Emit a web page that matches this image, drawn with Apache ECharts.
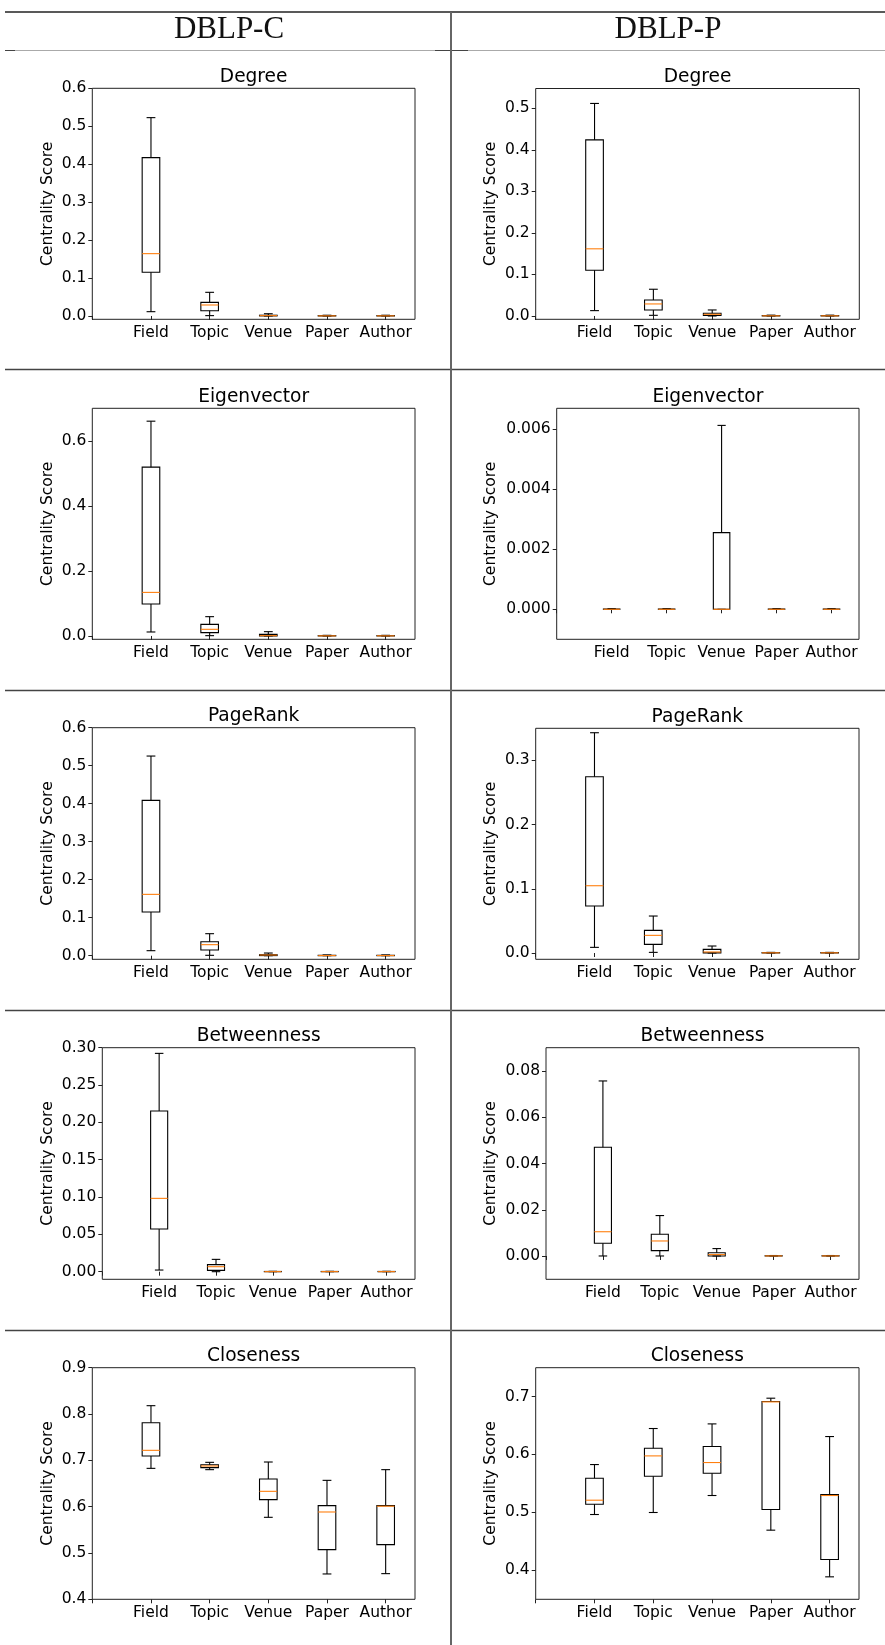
<!DOCTYPE html>
<html>
<head>
<meta charset="utf-8">
<title>Centrality scores: DBLP-C / DBLP-P</title>
<script src="https://cdn.jsdelivr.net/npm/echarts@6/dist/echarts.min.js"></script>
<style>
  html, body { margin: 0; padding: 0; background: #fff; }
  #main { width: 885px; height: 1645px; }
</style>
</head>
<body>
<div id="main"></div>
<script>
// node types on the x axis
var categories = ['Field', 'Topic', 'Venue', 'Paper', 'Author']

// each row: [lower whisker, Q1, median, Q3, upper whisker]
var degreeC = [
  [0.0114, 0.1151, 0.1643, 0.4173, 0.5227],
  [0.001, 0.014, 0.029, 0.036, 0.0624],
  [0.0, 0.0003, 0.001, 0.002, 0.006],
  [0.0, 0.0001, 0.0004, 0.001, 0.002],
  [0.0, 0.0001, 0.0004, 0.001, 0.002]
]
var degreeP = [
  [0.0129, 0.1103, 0.1618, 0.4243, 0.512],
  [0.0016, 0.0145, 0.029, 0.0386, 0.0644],
  [0.0, 0.001, 0.004, 0.0064, 0.0145],
  [0.0, 0.0001, 0.0004, 0.001, 0.002],
  [0.0, 0.0001, 0.0004, 0.001, 0.002]
]
var eigenC = [
  [0.0123, 0.0983, 0.134, 0.519, 0.6604],
  [0.001, 0.0102, 0.0205, 0.0358, 0.0594],
  [0.0, 0.0003, 0.001, 0.005, 0.0133],
  [0.0, 0.0001, 0.0004, 0.001, 0.002],
  [0.0, 0.0001, 0.0004, 0.001, 0.002]
]
var eigenP = [
  [0, 0, 0, 0.00001, 0.00002],
  [0, 0, 0, 0.00001, 0.00002],
  [0, 0, 0, 0.002556, 0.00613],
  [0, 0, 0, 0.00001, 0.00002],
  [0, 0, 0, 0.00001, 0.00002]
]
var pagerankC = [
  [0.0132, 0.1149, 0.1614, 0.4088, 0.5254],
  [0.001, 0.0149, 0.029, 0.0368, 0.0579],
  [0.0, 0.0003, 0.0018, 0.0026, 0.007],
  [0.0, 0.0001, 0.0004, 0.001, 0.002],
  [0.0, 0.0001, 0.0004, 0.001, 0.002]
]
var pagerankP = [
  [0.0088, 0.0732, 0.1048, 0.2746, 0.3431],
  [0.001, 0.0135, 0.0275, 0.0353, 0.0576],
  [0.0, 0.0002, 0.0016, 0.0057, 0.0109],
  [0.0, 0.0001, 0.0003, 0.0006, 0.001],
  [0.0, 0.0001, 0.0003, 0.0006, 0.001]
]
var betweenC = [
  [0.0022, 0.0571, 0.0982, 0.2152, 0.2924],
  [0.0, 0.0018, 0.0067, 0.0094, 0.0165],
  [0.0, 0.0, 0.0001, 0.0003, 0.0005],
  [0.0, 0.0, 0.0001, 0.0003, 0.0005],
  [0.0, 0.0, 0.0001, 0.0003, 0.0005]
]
var betweenP = [
  [0.0, 0.0055, 0.0105, 0.0471, 0.0758],
  [0.0, 0.0023, 0.0065, 0.0094, 0.0175],
  [0.0, 0.0, 0.0006, 0.0014, 0.0032],
  [0.0, 0.0, 0.00003, 0.0001, 0.0002],
  [0.0, 0.0, 0.00003, 0.0001, 0.0002]
]
var closeC = [
  [0.6827, 0.7094, 0.7216, 0.7813, 0.818],
  [0.6799, 0.6842, 0.6878, 0.6906, 0.6957],
  [0.577, 0.6151, 0.6331, 0.6597, 0.6964],
  [0.4547, 0.5072, 0.5885, 0.6022, 0.6568],
  [0.4554, 0.518, 0.601, 0.6022, 0.6799]
]
var closeP = [
  [0.4958, 0.5137, 0.5206, 0.5587, 0.5823],
  [0.4993, 0.5621, 0.5973, 0.6106, 0.6447],
  [0.5287, 0.5673, 0.5858, 0.6135, 0.6527],
  [0.4687, 0.5044, 0.6908, 0.6914, 0.6972],
  [0.3879, 0.4179, 0.5287, 0.5304, 0.6308]
]

// y tick labels of each panel
var ticksDegreeC = [0, 0.1, 0.2, 0.3, 0.4, 0.5, 0.6]
var ticksDegreeP = [0, 0.1, 0.2, 0.3, 0.4, 0.5]
var ticksEigenC = [0, 0.2, 0.4, 0.6]
var ticksEigenP = [0, 0.002, 0.004, 0.006]
var ticksPagerankC = [0, 0.1, 0.2, 0.3, 0.4, 0.5, 0.6]
var ticksPagerankP = [0, 0.1, 0.2, 0.3]
var ticksBetweenC = [0, 0.05, 0.1, 0.15, 0.2, 0.25, 0.3]
var ticksBetweenP = [0, 0.02, 0.04, 0.06, 0.08]
var ticksCloseC = [0.4, 0.5, 0.6, 0.7, 0.8, 0.9]
var ticksCloseP = [0.4, 0.5, 0.6, 0.7]

var datasets = ['DBLP-C', 'DBLP-P']

// one entry per subplot, left column then right column, row by row
var panels = [
  { title: 'Degree', data: degreeC, ticks: ticksDegreeC, dec: 1, min: -0.0087, max: 0.6 },
  { title: 'Degree', data: degreeP, ticks: ticksDegreeP, dec: 1, min: -0.008, max: 0.548 },
  { title: 'Eigenvector', data: eigenC, ticks: ticksEigenC, dec: 1, min: -0.0102, max: 0.70 },
  { title: 'Eigenvector', data: eigenP, ticks: ticksEigenP, dec: 3, min: -0.001, max: 0.0067 },
  { title: 'PageRank', data: pagerankC, ticks: ticksPagerankC, dec: 1, min: -0.0095, max: 0.6 },
  { title: 'PageRank', data: pagerankP, ticks: ticksPagerankP, dec: 1, min: -0.0098, max: 0.35 },
  { title: 'Betweenness', data: betweenC, ticks: ticksBetweenC, dec: 2, min: -0.0102, max: 0.30 },
  { title: 'Betweenness', data: betweenP, ticks: ticksBetweenP, dec: 2, min: -0.0101, max: 0.0902 },
  { title: 'Closeness', data: closeC, ticks: ticksCloseC, dec: 1, min: 0.4, max: 0.9 },
  { title: 'Closeness', data: closeP, ticks: ticksCloseP, dec: 1, min: 0.349, max: 0.75 }
]

// plot rectangles [left, top, width, height] in px
var boxes = [
  [92.3, 88.3, 322.7, 231],
  [535.7, 88.5, 323.6, 230.8],
  [92.3, 408.3, 322.7, 231],
  [556.7, 408.3, 302.3, 231],
  [92.3, 727.7, 322.7, 231.6],
  [535.7, 728.3, 323.3, 231],
  [102.3, 1047.7, 312.7, 231.6],
  [546, 1047.7, 313, 231.6],
  [92.3, 1367.7, 322.7, 231.6],
  [535.7, 1367.7, 323.3, 231.6]
]

var FONT = 'DejaVu Sans'
var TICK_SIZE = 15.5
var TITLE_SIZE = 18.6
var BOX_W = 0.3 // box width in x-axis units

function renderBox (params, api) {
  var x = api.value(0)
  var lo = api.coord([x, api.value(1)])
  var q1 = api.coord([x, api.value(2)])
  var med = api.coord([x, api.value(3)])
  var q3 = api.coord([x, api.value(4)])
  var hi = api.coord([x, api.value(5)])
  var w = api.size([BOX_W, 0])[0]
  var cx = lo[0]
  var black = { stroke: '#000', lineWidth: 1.1, fill: 'none' }
  return {
    type: 'group',
    children: [
      { type: 'line', shape: { x1: cx, y1: q1[1], x2: cx, y2: lo[1] }, style: black },
      { type: 'line', shape: { x1: cx, y1: q3[1], x2: cx, y2: hi[1] }, style: black },
      { type: 'line', shape: { x1: cx - w / 4, y1: lo[1], x2: cx + w / 4, y2: lo[1] }, style: black },
      { type: 'line', shape: { x1: cx - w / 4, y1: hi[1], x2: cx + w / 4, y2: hi[1] }, style: black },
      { type: 'rect', shape: { x: cx - w / 2, y: q3[1], width: w, height: q1[1] - q3[1] }, style: black },
      { type: 'line', shape: { x1: cx - w / 2, y1: med[1], x2: cx + w / 2, y2: med[1] }, style: { stroke: '#ff7f0e', lineWidth: 1.1 } }
    ]
  }
}

var grids = []
var xAxes = []
var yAxes = []
var series = []
var graphics = []

panels.forEach(function (p, i) {
  var b = boxes[i]
  var right = i % 2 === 1
  grids.push({
    left: b[0], top: b[1], width: b[2], height: b[3],
    show: true, borderColor: '#222', borderWidth: 1, backgroundColor: 'transparent',
    containLabel: false, outerBoundsMode: 'none'
  })
  xAxes.push({
    type: 'value', gridIndex: i, min: 0, max: 5.5,
    axisLine: { show: false },
    splitLine: { show: false },
    axisTick: { show: true, length: 4, customValues: [0, 1, 2, 3, 4, 5], lineStyle: { color: '#222', width: 1 } },
    axisLabel: {
      customValues: [1, 2, 3, 4, 5], margin: 6,
      fontFamily: FONT, fontSize: TICK_SIZE, color: '#000',
      formatter: function (v) { return categories[Math.round(v) - 1] || '' }
    }
  })
  yAxes.push({
    type: 'value', gridIndex: i, min: p.min, max: p.max,
    axisLine: { show: false },
    splitLine: { show: false },
    axisTick: { show: true, length: 4, customValues: p.ticks, lineStyle: { color: '#222', width: 1 } },
    axisLabel: {
      customValues: p.ticks, margin: 6,
      fontFamily: FONT, fontSize: TICK_SIZE, color: '#000',
      formatter: (function (dec) { return function (v) { return v.toFixed(dec) } })(p.dec)
    },
    name: 'Centrality Score',
    nameLocation: 'middle',
    nameRotate: 90,
    nameGap: b[0] - (right ? 498.5 : 55.5),
    nameMoveOverlap: false,
    nameTextStyle: { fontFamily: FONT, fontSize: TICK_SIZE, color: '#000' }
  })
  series.push({
    type: 'custom',
    name: datasets[i % 2] + ' ' + p.title,
    xAxisIndex: i,
    yAxisIndex: i,
    renderItem: renderBox,
    clip: false,
    data: p.data.map(function (d, k) { return [k + 1].concat(d) }),
    encode: { x: 0, y: [1, 2, 3, 4, 5] }
  })
  graphics.push({
    type: 'text',
    x: b[0] + b[2] / 2,
    y: b[1] - 11.5,
    style: {
      text: p.title, fill: '#000',
      font: TITLE_SIZE + 'px "' + FONT + '"',
      align: 'center', verticalAlign: 'middle'
    }
  })
})

// table rules
var ruleY = [369.5, 690.5, 1010.5, 1330.5]
graphics.push({ type: 'line', shape: { x1: 5, y1: 12, x2: 885, y2: 12 }, style: { stroke: '#222', lineWidth: 1.5 } })
graphics.push({ type: 'line', shape: { x1: 5, y1: 50.5, x2: 885, y2: 50.5 }, style: { stroke: '#aaa', lineWidth: 1 } })
graphics.push({ type: 'line', shape: { x1: 5, y1: 50.5, x2: 15, y2: 50.5 }, style: { stroke: '#444', lineWidth: 1 } })
graphics.push({ type: 'line', shape: { x1: 435, y1: 50.5, x2: 468, y2: 50.5 }, style: { stroke: '#444', lineWidth: 1 } })
ruleY.forEach(function (y) {
  graphics.push({ type: 'line', shape: { x1: 5, y1: y, x2: 885, y2: y }, style: { stroke: '#444', lineWidth: 1.5 } })
})
graphics.push({ type: 'line', shape: { x1: 451, y1: 12, x2: 451, y2: 1645 }, style: { stroke: '#666', lineWidth: 2 } })

// column headers
datasets.forEach(function (name, i) {
  graphics.push({
    type: 'text',
    x: i === 0 ? 229 : 668,
    y: 30,
    style: {
      text: name, fill: '#111',
      font: '31px "Liberation Serif"',
      align: 'center', verticalAlign: 'middle'
    }
  })
})

var chart = echarts.init(document.getElementById('main'), null, { renderer: 'canvas' })
chart.setOption({
  animation: false,
  backgroundColor: '#fff',
  grid: grids,
  xAxis: xAxes,
  yAxis: yAxes,
  series: series,
  graphic: graphics
})
</script>
</body>
</html>
